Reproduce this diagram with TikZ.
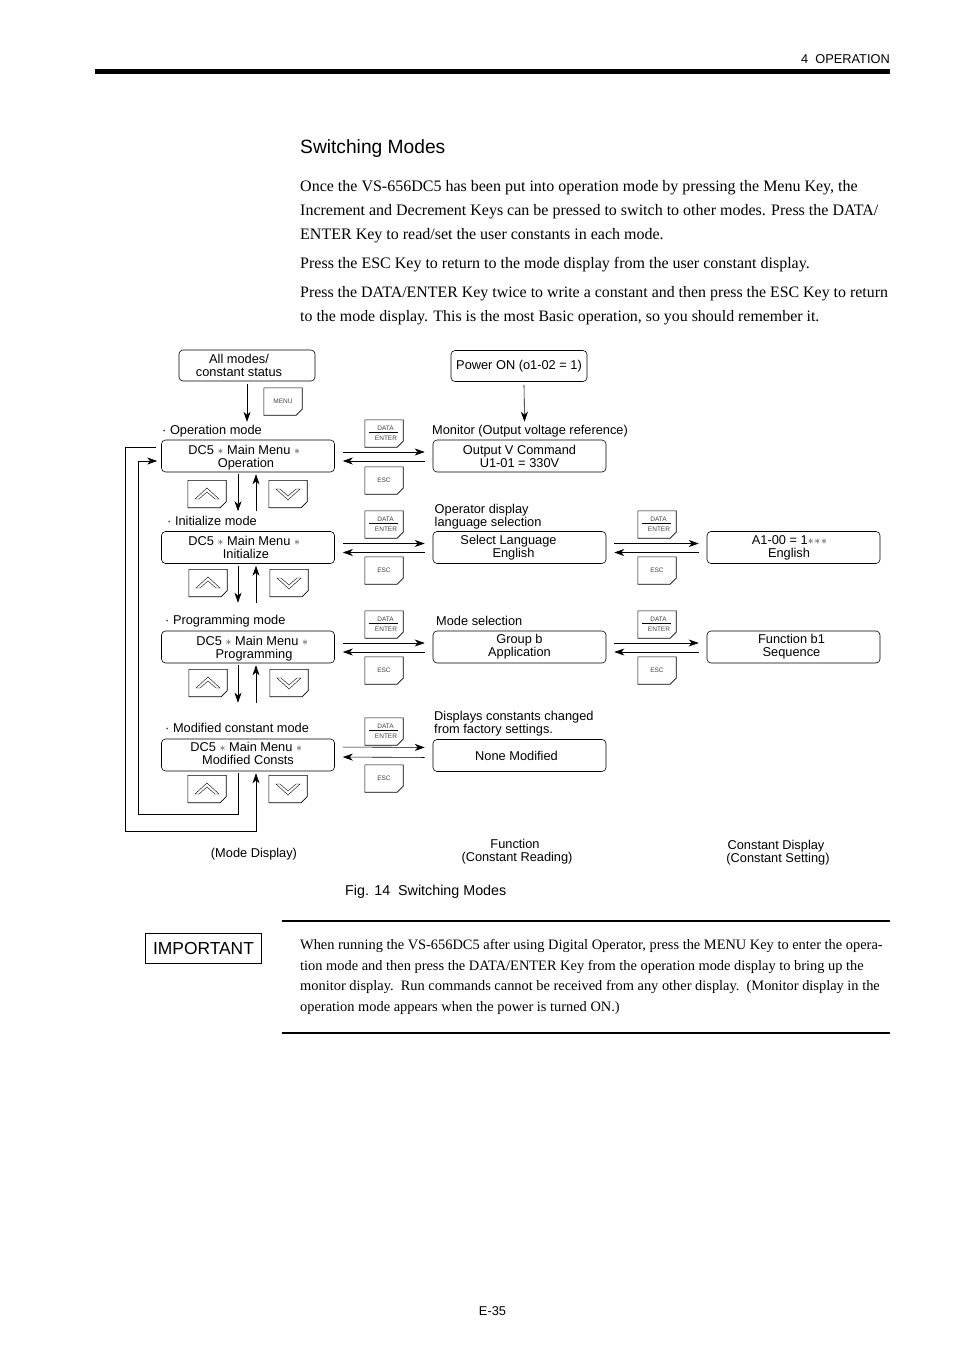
\documentclass[tikz,border=0pt]{standalone}
\usepackage{fontspec}
\setmainfont{Liberation Sans}
\newfontfamily\bodyfont{Liberation Serif}
\usetikzlibrary{arrows.meta}
\tikzset{
	lcdbox/.style={draw, rounded corners=4pt, line width=0.6pt, minimum width=173pt, minimum height=32pt, inner sep=0pt, align=center, font=\fontsize{12.8}{13}\selectfont},
	topbox/.style={lcdbox, minimum width=136pt, minimum height=31pt},
	caption/.style={anchor=west, inner sep=0pt, align=left, font=\fontsize{12.8}{13}\selectfont},
	midcaption/.style={caption, anchor=center, align=center},
	bodytext/.style={anchor=west, inner sep=0pt, align=left},
	keyface/.style={minimum width=38pt, minimum height=27pt, inner sep=0pt, align=center, text=black!75, font=\fontsize{6.5}{9.5}\selectfont},
	flowarrow/.style={-{Stealth[length=10pt,width=7pt,inset=3pt]}, line width=0.6pt, shorten <=8pt, shorten >=8pt},
	vertarrow/.style={-{Stealth[length=10pt,width=7pt,inset=3pt]}, line width=0.6pt},
}
\newcommand{\st}{\;\smash{\color{black!80}$\ast$}\;}
% key outline with the cut corner
\newcommand{\keycap}[4]{%
	\node [keyface] (#1) at (#2,#3) {#4};
	\draw [line width=0.6pt] (#1.north west) -- (#1.north east) -- ([yshift=6pt]#1.south east) -- ([xshift=-6pt]#1.south east) -- (#1.south west) -- cycle;
}
\newcommand{\datakey}[3]{%
	\keycap{#1}{#2}{#3}{\hspace*{3pt}DATA\\\hspace*{4pt}ENTER}
	\draw [line width=0.5pt] ([xshift=-15pt,yshift=1pt]#1.center) -- ([xshift=14pt,yshift=1pt]#1.center);
}
\newcommand{\upkey}[3]{%
	\keycap{#1}{#2}{#3}{}
	\draw [line width=0.4pt, shift={(#1.center)}] (-12,5) -- (0,-6) -- (12,5) -- (8,5) -- (0,-2) -- (-8,5) -- cycle;
}
\newcommand{\downkey}[3]{%
	\keycap{#1}{#2}{#3}{}
	\draw [line width=0.4pt, shift={(#1.center)}] (-12,-5) -- (0,6) -- (12,-5) -- (8,-5) -- (0,2) -- (-8,-5) -- cycle;
}
\begin{document}
\begin{tikzpicture}[x=1pt, y=-1pt]
	\useasboundingbox (0,0) rectangle (954,1351);
	% page head
	\fill (95,69) rectangle (890,74);
	\node [caption, anchor=east] (chapter) at (890,59) {4\ \ OPERATION};
	\node [bodytext, font=\fontsize{19.2}{20}\selectfont] (title) at (300,149) {Switching Modes};
	\node [bodytext, font=\bodyfont\fontsize{16}{24}\selectfont] (parafirst) at (300,212) {Once the VS-656DC5 has been put into operation mode by pressing the Menu Key, the\\Increment and Decrement Keys can be pressed to switch to other modes. Press the DATA/\\ENTER Key to read/set the user constants in each mode.};
	\node [bodytext, font=\bodyfont\fontsize{16}{24}\selectfont] (parasecond) at (300,265) {Press the ESC Key to return to the mode display from the user constant display.};
	\node [bodytext, font=\bodyfont\fontsize{15.9}{24}\selectfont] (parathird) at (300,306) {Press the DATA/ENTER Key twice to write a constant and then press the ESC Key to return\\to the mode display. This is the most Basic operation, so you should remember it.};

	% top row
	\node [topbox] (allmodes) at (247,365.5) {\hspace*{-16pt}All modes/\\\hspace*{-16pt}constant status};
	\node [topbox] (poweron) at (519,366) {Power ON (o1-02 = 1)};
	\keycap{menukey}{283}{401.5}{MENU}

	% mode display
	\node [caption] (opcap) at (162,431) {· Operation mode};
	\node [lcdbox] (modeop) at (248,456) {\hspace*{-4pt}DC5\st Main Menu\st\\\hspace*{-4pt}\smash{Operation}};
	\node [caption] (initcap) at (167,521) {· Initialize mode};
	\node [lcdbox] (modeinit) at (248,547.5) {\hspace*{-4pt}DC5\st Main Menu\st\\\hspace*{-4pt}Initialize};
	\node [caption] (progcap) at (165,621) {· Programming mode};
	\node [lcdbox] (modeprog) at (248,647) {\hspace*{12pt}DC5\st Main Menu\st\\\hspace*{12pt}\smash{Programming}};
	\node [caption] (modcap) at (165,728) {· Modified constant mode};
	\node [lcdbox] (modemod) at (248,755) {DC5\st Main Menu\st\\\vphantom{p}Modified Consts};

	% function column
	\node [caption] (moncap) at (432,431) {Monitor (Output voltage reference)};
	\node [lcdbox] (funcmon) at (519.5,456) {Output V Command\\U1-01 = 330V};
	\node [caption] (langcap) at (434.5,516.5) {Operator display\\language selection};
	\node [lcdbox] (funclang) at (519.5,547.5) {\hspace*{-22pt}Select Language\\\hspace*{-12pt}English};
	\node [caption] (selcap) at (436,621) {Mode selection};
	\node [lcdbox] (funcgroup) at (519.5,647) {Group b\\Application};
	\node [caption] (chgcap) at (434,723.5) {Displays constants changed\\from factory settings.};
	\node [lcdbox] (funcnone) at (519.5,755.5) {\hspace*{-6pt}None Modified};

	% constant column
	\node [lcdbox] (constlang) at (793.5,547.5) {\hspace*{-8pt}A1-00 = 1{\color{black!80}\smash{$\ast\!\ast\!\ast$}}\\\hspace*{-9pt}English};
	\node [lcdbox] (constseq) at (793.5,647) {\hspace*{-4pt}Function b1\\\hspace*{-4pt}Sequence};

	% keys between the columns
	\datakey{dataop}{384}{433.5}
	\keycap{escop}{384}{480.5}{ESC}
	\datakey{datainit}{384}{524.5}
	\keycap{escinit}{384}{570.5}{ESC}
	\datakey{dataprog}{384}{624.5}
	\keycap{escprog}{384}{670.5}{ESC}
	\datakey{datamod}{384}{731.5}
	\keycap{escmod}{384}{778.5}{ESC}
	\datakey{datalang}{657}{524.5}
	\keycap{esclang}{657}{570.5}{ESC}
	\datakey{datagroup}{657}{624.5}
	\keycap{escgroup}{657}{670.5}{ESC}

	% increment and decrement keys
	\upkey{upop}{207}{494}
	\downkey{downop}{288}{494}
	\upkey{upinit}{208}{583}
	\downkey{downinit}{289}{583}
	\upkey{upprog}{208}{683}
	\downkey{downprog}{289}{683}
	\upkey{upmod}{207}{789}
	\downkey{downmod}{288}{789}

	% connectors
	\draw [vertarrow] ([yshift=-3pt]allmodes.south) -- ([yshift=3pt]opcap.north -| allmodes.south);
	\draw [vertarrow] ([xshift=5pt,yshift=-3pt]poweron.south) -- ([xshift=5pt,yshift=18pt]funcmon.north);
	\foreach \lhs/\rhs/\rise/\drop in {modeop/funcmon/4/5, modeinit/funclang/4/5, modeprog/funcgroup/4/5, modemod/funcnone/8/2, funclang/constlang/4/5, funcgroup/constseq/4/5} {
		\draw [flowarrow] ([yshift=\rise pt]\lhs.east) -- ([yshift=\rise pt]\rhs.west);
		\draw [flowarrow] ([yshift=-\drop pt]\rhs.west) -- ([yshift=-\drop pt]\lhs.east);
	}
	\foreach \upper/\lower/\gap in {modeop/modeinit/20, modeinit/modeprog/28, modeprog/modemod/36} {
		\draw [vertarrow] ([xshift=-10pt,yshift=-2pt]\upper.south) -- ([xshift=-10pt,yshift=\gap pt]\lower.north);
		\draw [vertarrow] ([xshift=8pt,yshift=\gap pt]\lower.north) -- ([xshift=8pt,yshift=-2pt]\upper.south);
	}
	\coordinate (loopa) at (238,814);
	\coordinate (loopb) at (138,814);
	\coordinate (loopc) at (125,831);
	\coordinate (loopd) at (256,831);
	\draw [vertarrow] ([xshift=-10pt,yshift=-2pt]modemod.south) -- (loopa) -- (loopb) -- (loopb |- 0,461) -- ([xshift=-4pt,yshift=-5pt]modeop.west);
	\draw [vertarrow] ([xshift=-5pt,yshift=9pt]modeop.west) -- (loopc |- 0,447) -- (loopc) -- (loopd) -- ([xshift=8pt,yshift=-2pt]modemod.south);

	% column captions
	\node [midcaption] (modecol) at (254,854.5) {(Mode Display)};
	\node [midcaption] (funccol) at (517,852) {\hspace*{-4pt}Function\\(Constant Reading)};
	\node [midcaption] (constcol) at (778,852.5) {\hspace*{-4pt}Constant Display\\(Constant Setting)};
	\node [bodytext, font=\fontsize{14.3}{14.5}\selectfont] (figcap) at (345,891.5) {Fig. 14\ \ Switching Modes};

	% note
	\draw [line width=2pt] (282,920.5) -- (890,920.5);
	\draw [line width=2pt] (282,1033) -- (890,1033);
	\node [draw, line width=0.6pt, minimum width=116pt, minimum height=30pt, inner sep=0pt, font=\fontsize{17.4}{19}\selectfont] (important) at (203.5,948) {IMPORTANT};
	\node [bodytext, font=\bodyfont\fontsize{14.4}{20.6}\selectfont] (notetext) at (300,977) {When running the VS-656DC5 after using Digital Operator, press the MENU Key to enter the opera-\\tion mode and then press the DATA/ENTER Key from the operation mode display to bring up the\\monitor display.\ \ Run commands cannot be received from any other display.\ \ (Monitor display in the\\operation mode appears when the power is turned ON.)};
	\node [caption, anchor=center] (pagenum) at (492.5,1311) {E-35};
\end{tikzpicture}
\end{document}
